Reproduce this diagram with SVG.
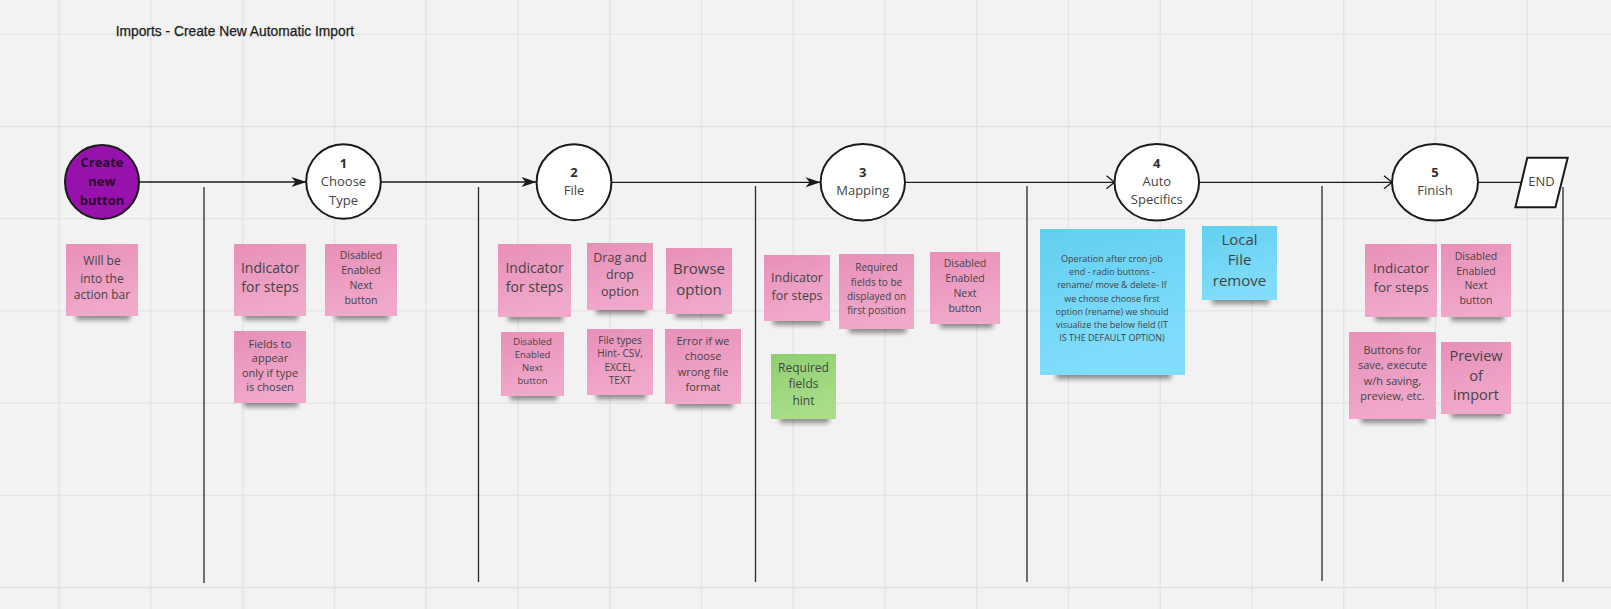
<svg xmlns="http://www.w3.org/2000/svg" width="1611" height="609" viewBox="0 0 1611 609">
<style>
.grid{stroke:#e3e3e3;stroke-width:1.3;fill:none}
.stage{fill:#ffffff;stroke:#1a1a1a;stroke-width:2}
.lbl{font-family:"Open Sans","DejaVu Sans",sans-serif;fill:#444444;text-anchor:middle}
.num{font-weight:bold;fill:#2e2e2e}
.conn{stroke:#1a1a1a;stroke-width:1.3;fill:none}
.div{stroke:#2a2a2a;stroke-width:1.3;fill:none}
.pink{fill:url(#gPink)}
.blue{fill:url(#gBlue)}
.green{fill:url(#gGreen)}
.shd{fill:#000;opacity:.42;filter:url(#blur)}
</style>
<defs>
<linearGradient id="gPink" x1="0" y1="0" x2="0.3" y2="1"><stop offset="0" stop-color="#e88fb8"/><stop offset="1" stop-color="#f0a9cb"/></linearGradient>
<linearGradient id="gBlue" x1="0" y1="0" x2="0.3" y2="1"><stop offset="0" stop-color="#62cff0"/><stop offset="1" stop-color="#82ddfc"/></linearGradient>
<linearGradient id="gGreen" x1="0" y1="0" x2="0.3" y2="1"><stop offset="0" stop-color="#8fcf6f"/><stop offset="1" stop-color="#a9dd8a"/></linearGradient>
<filter id="blur" x="-30%" y="-100%" width="160%" height="300%"><feGaussianBlur stdDeviation="2.6"/></filter>
<marker id="af" markerUnits="userSpaceOnUse" viewBox="-16 -6 17 12" refX="0" refY="0" markerWidth="17" markerHeight="12" orient="auto"><path d="M0,0 L-15,-5 L-11,0 L-15,5 Z" fill="#1a1a1a"/></marker>
<marker id="ao" markerUnits="userSpaceOnUse" viewBox="-10 -8 12 16" refX="0" refY="0" markerWidth="12" markerHeight="16" orient="auto"><path d="M-8,-6.5 L0,0 L-8,6.5" fill="none" stroke="#1a1a1a" stroke-width="1.3"/></marker>
</defs>
<rect x="0" y="0" width="1611" height="609" fill="#f2f2f2"/>
<g id="grid">
<path class="grid" d="M59.2,0V609M151,0V609M242.7,0V609M334.5,0V609M426.2,0V609M518,0V609M609.7,0V609M701.5,0V609M793.2,0V609M885,0V609M976.7,0V609M1068.5,0V609M1160.2,0V609M1252,0V609M1343.7,0V609M1435.5,0V609M1527.2,0V609"/>
<path class="grid" d="M0,34.3H1611M0,126.5H1611M0,218.7H1611M0,310.9H1611M0,403.1H1611M0,495.3H1611M0,587.5H1611"/>
</g>
<text id="title" x="115.7" y="36" font-family="'Liberation Sans',Arial,sans-serif" font-size="13.8" fill="#1c1c1c" stroke="#1c1c1c" stroke-width="0.25">Imports - Create New Automatic Import</text>

<g id="dividers">
<path class="div" d="M204,187V583M478.5,187V582M755.5,186V582M1027,186V582M1322,186V581M1563,187V582"/>
</g>

<g id="connectors">
<path class="conn" d="M139,182H306.5" marker-end="url(#af)"/>
<path class="conn" d="M380.5,182H536.5" marker-end="url(#af)"/>
<path class="conn" d="M611.3,182.3H820.6" marker-end="url(#af)"/>
<path class="conn" d="M905,182.3H1114.5" marker-end="url(#ao)"/>
<path class="conn" d="M1199,182.3H1392" marker-end="url(#ao)"/>
<path class="conn" d="M1478,182.3H1521.5"/>
</g>

<g id="start">
<circle cx="102" cy="182" r="37" fill="#9711ad" stroke="#1a1a1a" stroke-width="2"/>
<text class="lbl" font-size="13" font-weight="bold" style="fill:#2a0a2e"><tspan x="102" y="167.4">Create</tspan><tspan x="102" y="186.4">new</tspan><tspan x="102" y="204.7">button</tspan></text>
</g>
<g id="s1">
<circle class="stage" cx="343.5" cy="181.5" r="37.3"/>
<text class="lbl" font-size="13"><tspan class="num" x="343.5" y="167.7">1</tspan><tspan x="343.5" y="185.7">Choose</tspan><tspan x="343.5" y="204.7">Type</tspan></text>
</g>
<g id="s2">
<ellipse class="stage" cx="574" cy="182.3" rx="37.4" ry="38"/>
<text class="lbl" font-size="13"><tspan class="num" x="574" y="177.4">2</tspan><tspan x="574" y="195.4">File</tspan></text>
</g>
<g id="s3">
<ellipse class="stage" cx="862.8" cy="182.3" rx="42.2" ry="38.3"/>
<text class="lbl" font-size="13"><tspan class="num" x="862.8" y="177.4">3</tspan><tspan x="862.8" y="195.4">Mapping</tspan></text>
</g>
<g id="s4">
<ellipse class="stage" cx="1156.8" cy="182.3" rx="42.3" ry="38.3"/>
<text class="lbl" font-size="13"><tspan class="num" x="1156.8" y="168.4">4</tspan><tspan x="1156.8" y="186.4">Auto</tspan><tspan x="1156.8" y="204">Specifics</tspan></text>
</g>
<g id="s5">
<ellipse class="stage" cx="1435" cy="182.3" rx="43" ry="38.3"/>
<text class="lbl" font-size="13"><tspan class="num" x="1435" y="177.4">5</tspan><tspan x="1435" y="195.4">Finish</tspan></text>
</g>
<g id="end">
<polygon class="stage" points="1527.3,157.7 1567.7,157.7 1555.4,207.3 1515.4,207.3"/>
<text class="lbl" font-size="13" x="1541.4" y="186.4">END</text>
</g>

<g id="n1"><rect class="shd" x="76" y="310" width="54" height="10"/><rect class="pink" x="66" y="244" width="72" height="72"/>
<text class="lbl" font-size="12"><tspan x="102" y="265.3">Will be</tspan><tspan x="102" y="282.6">into the</tspan><tspan x="102" y="299.3">action bar</tspan></text></g>

<g id="n2"><rect class="shd" x="244" y="310" width="54" height="10"/><rect class="pink" x="234" y="244" width="72" height="72"/>
<text class="lbl" font-size="14"><tspan x="270" y="273.3">Indicator</tspan><tspan x="270" y="292.3">for steps</tspan></text></g>

<g id="n3"><rect class="shd" x="335" y="310" width="54" height="10"/><rect class="pink" x="325" y="244" width="72" height="72"/>
<text class="lbl" font-size="10.5"><tspan x="361" y="258.8">Disabled</tspan><tspan x="361" y="273.8">Enabled</tspan><tspan x="361" y="289.1">Next</tspan><tspan x="361" y="303.8">button</tspan></text></g>

<g id="n4"><rect class="shd" x="244" y="397" width="54" height="10"/><rect class="pink" x="234" y="331" width="72" height="72"/>
<text class="lbl" font-size="11"><tspan x="270" y="347.5">Fields to</tspan><tspan x="270" y="362">appear</tspan><tspan x="270" y="376.5">only if type</tspan><tspan x="270" y="391">is chosen</tspan></text></g>

<g id="n5"><rect class="shd" x="508" y="311" width="55" height="10"/><rect class="pink" x="498" y="244" width="73" height="73"/>
<text class="lbl" font-size="14"><tspan x="534.5" y="273.3">Indicator</tspan><tspan x="534.5" y="292.3">for steps</tspan></text></g>

<g id="n6"><rect class="shd" x="596" y="304" width="50" height="10"/><rect class="pink" x="587" y="243" width="66" height="67"/>
<text class="lbl" font-size="12.5"><tspan x="620" y="261.8">Drag and</tspan><tspan x="620" y="278.8">drop</tspan><tspan x="620" y="295.8">option</tspan></text></g>

<g id="n7"><rect class="shd" x="675" y="308" width="50" height="10"/><rect class="pink" x="666" y="248" width="66" height="66"/>
<text class="lbl" font-size="15"><tspan x="699" y="274.1">Browse</tspan><tspan x="699" y="294.7">option</tspan></text></g>

<g id="n8"><rect class="shd" x="510" y="390" width="47" height="10"/><rect class="pink" x="501" y="332" width="63" height="64"/>
<text class="lbl" font-size="9.5"><tspan x="532.5" y="345.1">Disabled</tspan><tspan x="532.5" y="358.4">Enabled</tspan><tspan x="532.5" y="371.1">Next</tspan><tspan x="532.5" y="384.1">button</tspan></text></g>

<g id="n9"><rect class="shd" x="596" y="389" width="50" height="10"/><rect class="pink" x="587" y="329" width="66" height="66"/>
<text class="lbl" font-size="10"><tspan x="620" y="343.6">File types</tspan><tspan x="620" y="356.9">Hint- CSV,</tspan><tspan x="620" y="370.9">EXCEL,</tspan><tspan x="620" y="384.3">TEXT</tspan></text></g>

<g id="n10"><rect class="shd" x="675" y="398" width="58" height="10"/><rect class="pink" x="665" y="329" width="76" height="75"/>
<text class="lbl" font-size="11"><tspan x="703" y="345">Error if we</tspan><tspan x="703" y="360">choose</tspan><tspan x="703" y="375.5">wrong file</tspan><tspan x="703" y="390.5">format</tspan></text></g>

<g id="n11"><rect class="shd" x="773" y="315" width="50" height="10"/><rect class="pink" x="764" y="255" width="66" height="66"/>
<text class="lbl" font-size="12.5"><tspan x="797" y="281.8">Indicator</tspan><tspan x="797" y="299.5">for steps</tspan></text></g>

<g id="n12"><rect class="shd" x="849" y="323" width="57" height="10"/><rect class="pink" x="839" y="254" width="75" height="75"/>
<text class="lbl" font-size="10"><tspan x="876.5" y="271.3">Required</tspan><tspan x="876.5" y="285.6">fields to be</tspan><tspan x="876.5" y="299.6">displayed on</tspan><tspan x="876.5" y="314.3">first position</tspan></text></g>

<g id="n13"><rect class="shd" x="940" y="318" width="53" height="10"/><rect class="pink" x="930" y="252" width="70" height="72"/>
<text class="lbl" font-size="10.5"><tspan x="965" y="267.1">Disabled</tspan><tspan x="965" y="282.1">Enabled</tspan><tspan x="965" y="297.1">Next</tspan><tspan x="965" y="312.1">button</tspan></text></g>

<g id="n14"><rect class="shd" x="780" y="413" width="49" height="10"/><rect class="green" x="771" y="354" width="65" height="65"/>
<text class="lbl" font-size="12"><tspan x="803.5" y="372">Required</tspan><tspan x="803.5" y="388.3">fields</tspan><tspan x="803.5" y="405.3">hint</tspan></text></g>

<g id="n15"><rect class="shd" x="1056" y="368" width="115" height="11"/><rect class="blue" x="1040" y="229" width="145" height="146"/>
<text class="lbl" font-size="9"><tspan x="1112" y="261.9">Operation after cron job</tspan><tspan x="1112" y="275.1">end - radio buttons -</tspan><tspan x="1112" y="288.3">rename/ move &amp; delete- If</tspan><tspan x="1112" y="301.5">we choose choose first</tspan><tspan x="1112" y="314.7">option (rename) we should</tspan><tspan x="1112" y="327.9">visualize the below field (IT</tspan><tspan x="1112" y="341.1">IS THE DEFAULT OPTION)</tspan></text></g>

<g id="n16"><rect class="shd" x="1212" y="294" width="57" height="10"/><rect class="blue" x="1202" y="226" width="75" height="74"/>
<text class="lbl" font-size="15"><tspan x="1239.5" y="245.4">Local</tspan><tspan x="1239.5" y="265.4">File</tspan><tspan x="1239.5" y="286.4">remove</tspan></text></g>

<g id="n17"><rect class="shd" x="1375" y="311" width="54" height="10"/><rect class="pink" x="1365" y="244" width="72" height="73"/>
<text class="lbl" font-size="13.5"><tspan x="1401" y="273.2">Indicator</tspan><tspan x="1401" y="292.2">for steps</tspan></text></g>

<g id="n18"><rect class="shd" x="1451" y="311" width="53" height="10"/><rect class="pink" x="1441" y="244" width="70" height="73"/>
<text class="lbl" font-size="10.5"><tspan x="1476" y="259.8">Disabled</tspan><tspan x="1476" y="274.8">Enabled</tspan><tspan x="1476" y="289.3">Next</tspan><tspan x="1476" y="303.8">button</tspan></text></g>

<g id="n19"><rect class="shd" x="1361" y="413" width="65" height="10"/><rect class="pink" x="1349" y="332" width="87" height="87"/>
<text class="lbl" font-size="11"><tspan x="1392.5" y="354">Buttons for</tspan><tspan x="1392.5" y="369.3">save, execute</tspan><tspan x="1392.5" y="385.3">w/h saving,</tspan><tspan x="1392.5" y="400">preview, etc.</tspan></text></g>

<g id="n20"><rect class="shd" x="1451" y="408" width="53" height="10"/><rect class="pink" x="1441" y="342" width="70" height="72"/>
<text class="lbl" font-size="14.5"><tspan x="1476" y="361.2">Preview</tspan><tspan x="1476" y="380.9">of</tspan><tspan x="1476" y="400.2">import</tspan></text></g>
</svg>
